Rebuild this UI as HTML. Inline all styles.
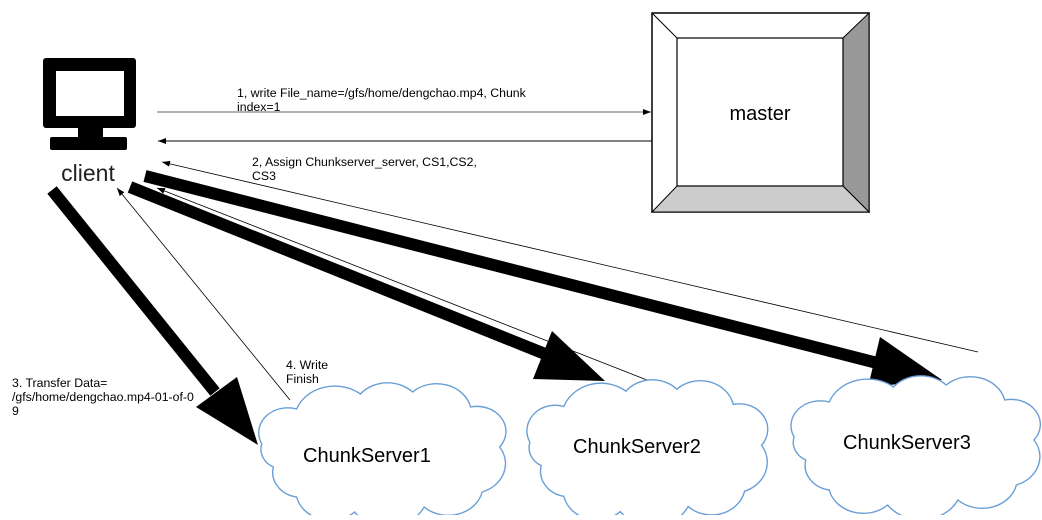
<!DOCTYPE html>
<html><head><meta charset="utf-8"><style>
body{margin:0;background:#fff;width:1042px;height:515px;overflow:hidden}
svg text{font-family:"Liberation Sans",sans-serif}
</style></head><body>
<svg width="1042" height="515" viewBox="0 0 1042 515" xmlns="http://www.w3.org/2000/svg">
<defs>
<marker id="ah" markerWidth="8" markerHeight="6" refX="8" refY="3" orient="auto" markerUnits="userSpaceOnUse"><path d="M0,0 L8,3 L0,6 z" fill="#000"/></marker>
<path id="cloud" d="M30,60 a25,25 0 0 1 30,-35 a35,35 0 0 1 55,-15 a30,30 0 0 1 45,-2 a30,30 0 0 1 50,15 a25,25 0 0 1 25,40 a30,30 0 0 1 -15,45 a30,30 0 0 1 -50,15 a35,35 0 0 1 -60,5 a30,30 0 0 1 -50,-15 a25,25 0 0 1 -20,-30 a20,20 0 0 1 -10,-23 z" fill="#fff" stroke="#6a9fd6" stroke-width="1.4" vector-effect="non-scaling-stroke"/>
</defs>
<!-- master -->
<rect x="652" y="13" width="217" height="199" fill="#fff" stroke="#000" stroke-width="1.5"/>
<polygon points="843,38 869,13 869,212 843,186" fill="#999" stroke="#000"/>
<polygon points="677,186 843,186 869,212 652,212" fill="#ccc" stroke="#000"/>
<line x1="652" y1="13" x2="677" y2="38" stroke="#000"/>
<rect x="677" y="38" width="166" height="148" fill="#fff" stroke="#000" stroke-width="1.2"/>
<text x="760" y="120" font-size="20" text-anchor="middle">master</text>
<!-- client -->
<rect x="43" y="58" width="93" height="70" rx="3" fill="#000"/>
<rect x="56" y="71" width="68" height="45" fill="#fff"/>
<rect x="78" y="126" width="25" height="12" fill="#000"/>
<rect x="50" y="137" width="77" height="13" rx="2" fill="#000"/>
<text x="88" y="181" font-size="23" text-anchor="middle" fill="#222" font-family="DejaVu Sans,sans-serif">client</text>
<!-- thin arrows -->
<line x1="157" y1="112" x2="651" y2="112" stroke="#666" stroke-width="1" marker-end="url(#ah)"/>
<line x1="652" y1="141" x2="158" y2="141" stroke="#000" stroke-width="1" marker-end="url(#ah)"/>
<line x1="978" y1="352" x2="162" y2="162" stroke="#000" stroke-width="0.8" marker-end="url(#ah)"/>
<line x1="290" y1="400" x2="117" y2="188" stroke="#000" stroke-width="0.8" marker-end="url(#ah)"/>
<line x1="647" y1="380" x2="157" y2="188" stroke="#000" stroke-width="0.8" marker-end="url(#ah)"/>
<!-- thick arrows -->
<line x1="52" y1="190" x2="215" y2="392" stroke="#000" stroke-width="12"/>
<polygon points="258,445 196,407 237,377" fill="#000"/>
<line x1="130" y1="187" x2="555" y2="358" stroke="#000" stroke-width="12"/>
<polygon points="605,381 533,379 552,331" fill="#000"/>
<line x1="145" y1="176" x2="885" y2="365" stroke="#000" stroke-width="12"/>
<polygon points="942,380 868,387 880,337" fill="#000"/>
<!-- clouds -->
<use href="#cloud" transform="translate(227,384) scale(1.16,1.0)"/>
<use href="#cloud" transform="translate(496,381) scale(1.13,1.02)"/>
<use href="#cloud" transform="translate(759,377) scale(1.17,1.0)"/>
<text x="303" y="462" font-size="20">ChunkServer1</text>
<text x="573" y="453" font-size="20">ChunkServer2</text>
<text x="843" y="449" font-size="20">ChunkServer3</text>
<!-- labels -->
<g font-size="12.3">
<text x="237" y="97">1,  write File_name=/gfs/home/dengchao.mp4, Chunk</text>
<text x="237" y="111">index=1</text>
<text x="252" y="166">2, Assign Chunkserver_server, CS1,CS2,</text>
<text x="252" y="180">CS3</text>
<text x="12" y="387">3. Transfer Data=</text>
<text x="12" y="401">/gfs/home/dengchao.mp4-01-of-0</text>
<text x="12" y="415">9</text>
<text x="286" y="369">4. Write</text>
<text x="286" y="383">Finish</text>
</g>
</svg>
</body></html>
